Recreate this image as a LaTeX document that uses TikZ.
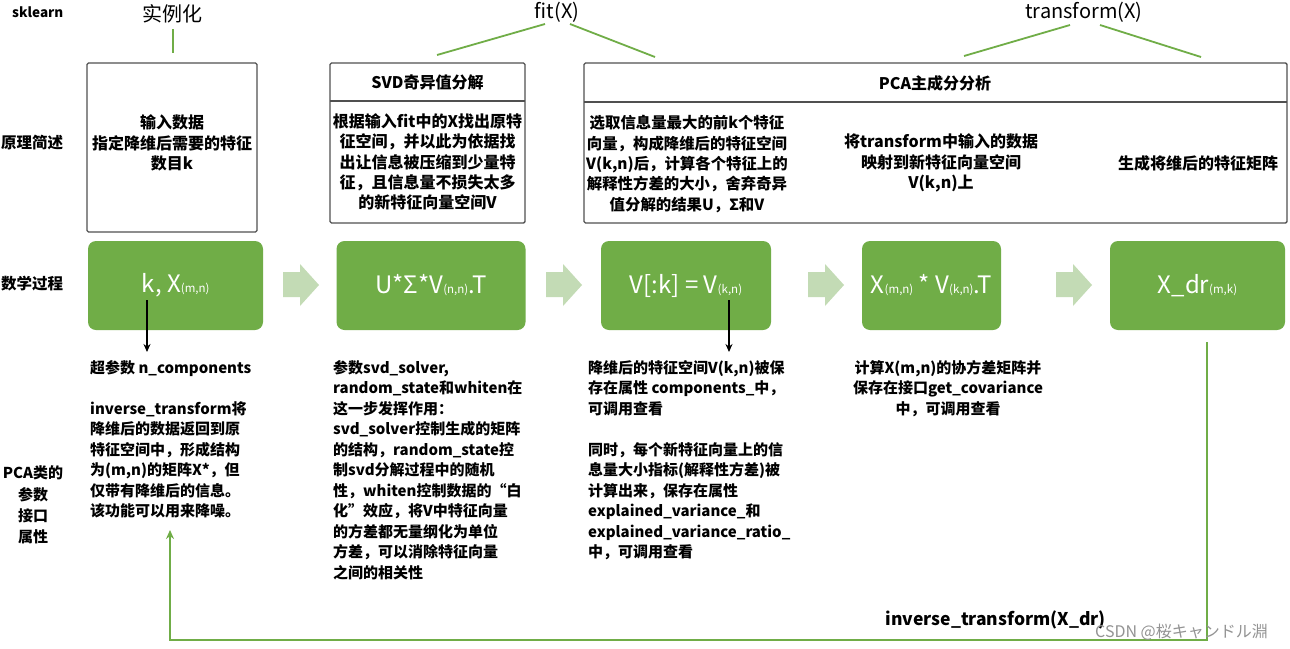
\documentclass[tikz,border=0pt]{standalone}
\usepackage{fontspec}
\setmainfont{Noto Sans CJK SC}
\newfontfamily\jpfont{Noto Sans CJK JP}
\usetikzlibrary{arrows.meta}
\definecolor{gbox}{HTML}{70AD47}
\definecolor{garrow}{HTML}{C3DBB5}
\definecolor{bordergray}{HTML}{505050}
\newcommand{\sbx}[1]{{\fontsize{11.5}{12}\selectfont #1}}
\tikzset{
  lbl/.style={font=\fontsize{15.5}{18}\selectfont\bfseries, inner sep=0pt},
  toplbl/.style={font=\fontsize{20}{22}\selectfont, inner sep=0pt},
  framebox/.style={draw=bordergray, line width=1.4pt, rounded corners=1.5pt},
  boxtext/.style={font=\fontsize{16}{20.4}\selectfont\bfseries, align=center, inner sep=0pt},
  coltext/.style={font=\fontsize{15}{20.5}\selectfont\bfseries, align=left, inner sep=0pt, anchor=north west},
  mathbox/.style={fill=gbox, rounded corners=8pt, inner sep=0pt, text=white, font=\fontsize{24}{26}\selectfont},
  blockarrow/.style={fill=garrow, draw=none},
  gline/.style={draw=gbox, line width=1.8pt},
  blackarrow/.style={draw=black, line width=1.4pt, -{Stealth[length=8pt,width=7pt]}}
}
\begin{document}
\begin{tikzpicture}[x=1pt,y=-1pt]
\useasboundingbox (0,0) rectangle (1290,648);
\fill[white] (0,0) rectangle (1290,648);

% left labels
\node[lbl, font=\fontsize{13.5}{16}\selectfont\bfseries, anchor=west] (sk) at (12,12) {sklearn};
\node[lbl, anchor=west] (yl) at (1,143) {原理简述};
\node[lbl, anchor=west] (sx) at (1,284) {数学过程};
\node[lbl, align=center, font=\fontsize{15}{21.2}\selectfont\bfseries] (pca) at (33,505) {PCA类的\\参数\\接口\\属性};

% top labels
\node[toplbl] (sl) at (172,14) {实例化};
\node[toplbl] (fit) at (557,12) {fit(X)};
\node[toplbl] (tr) at (1084,12) {transform(X)};

% frame boxes
\draw[framebox] (87,63) rectangle (257,232);
\node[boxtext] (b1) at (172,143) {输入数据\\指定降维后需要的特征\\数目k};

\draw[framebox] (330,63) rectangle (525,223);
\draw[bordergray, line width=1.4pt] (330,101) -- (525,101);
\node[boxtext] (svdh) at (427.5,82) {SVD奇异值分解};
\node[boxtext] (svdb) at (427.5,162) {根据输入fit中的X找出原特\\征空间，并以此为依据找\\出让信息被压缩到少量特\\征，且信息量不损失太多\\的新特征向量空间V};

\draw[framebox] (584,63) rectangle (1287,223);
\draw[bordergray, line width=1.4pt] (584,102) -- (1287,102);
\node[boxtext] (pcah) at (935,83) {PCA主成分分析};
\node[boxtext, font=\fontsize{15.4}{20.3}\selectfont\bfseries] (pc1) at (687,164) {选取信息量最大的前k个特征\\向量，构成降维后的特征空间\\V(k,n)后，计算各个特征上的\\解释性方差的大小，舍弃奇异\\值分解的结果U，Σ和V};
\node[boxtext] (pc2) at (941,163) {将transform中输入的数据\\映射到新特征向量空间\\V(k,n)上};
\node[boxtext] (pc3) at (1198,163) {生成将维后的特征矩阵};

% green lines from top labels
\coordinate (slb) at (173,53);
\draw[gline] (173,29) -- (slb);
\coordinate (fl) at (437,55);
\coordinate (fr) at (655,57);
\draw[gline] (545,24) -- (fl);
\draw[gline] (570,24) -- (fr);
\coordinate (tl) at (964,56);
\coordinate (trr) at (1201,57);
\draw[gline] (1070,25) -- (tl);
\draw[gline] (1100,25) -- (trr);

% math boxes
\node[mathbox, minimum width=175pt, minimum height=89pt] (m1) at (175.5,285.5) {k, X\sbx{(m,n)}};
\node[mathbox, minimum width=189pt, minimum height=89pt] (m2) at (431,285.5) {U*Σ*V\sbx{(n,n)}.T};
\node[mathbox, minimum width=170pt, minimum height=89pt] (m3) at (686,285.5) {V[:k] = V\sbx{(k,n)}};
\node[mathbox, minimum width=139pt, minimum height=89pt] (m4) at (931.5,285.5) {X\sbx{(m,n)} * V\sbx{(k,n)}.T};
\node[mathbox, minimum width=175pt, minimum height=89pt] (m5) at (1197.5,285.5) {X\_dr\sbx{(m,k)}};

% block arrows
\foreach \xs in {283,546,808,1056}{
  \fill[blockarrow] (\xs,272) -- (\xs+17,272) -- (\xs+17,264) -- (\xs+36,285) -- (\xs+17,306) -- (\xs+17,297) -- (\xs,297) -- cycle;
}

% black arrows
\coordinate (a1) at (147,352);
\coordinate (a3) at (729,352);
\draw[blackarrow] (147,300) -- (a1);
\draw[blackarrow] (729,300) -- (a3);

% column texts
\node[coltext] (c1) at (90,360) {超参数 n\_components\\ \\inverse\_transform将\\降维后的数据返回到原\\特征空间中，形成结构\\为(m,n)的矩阵X*，但\\仅带有降维后的信息。\\该功能可以用来降噪。};
\node[coltext] (c2) at (333,360) {参数svd\_solver,\\random\_state和whiten在\\这一步发挥作用：\\svd\_solver控制生成的矩阵\\的结构，random\_state控\\制svd分解过程中的随机\\性，whiten控制数据的“白\\化”效应，将V中特征向量\\的方差都无量纲化为单位\\方差，可以消除特征向量\\之间的相关性};
\node[coltext] (c3) at (588,360) {降维后的特征空间V(k,n)被保\\存在属性 components\_中，\\可调用查看\\ \\同时，每个新特征向量上的信\\息量大小指标(解释性方差)被\\计算出来，保存在属性\\explained\_variance\_和\\explained\_variance\_ratio\_\\中，可调用查看};
\node[coltext, anchor=north, align=center] (c4) at (948,360) {计算X(m,n)的协方差矩阵并\\保存在接口get\_covariance\\中，可调用查看};

% inverse transform loop
\coordinate (lp1) at (1207,342);
\coordinate (lp2) at (1207,640);
\coordinate (lp3) at (170,640);
\coordinate (lp4) at (170,530);
\draw[gline, -{Stealth[length=9pt,width=8pt]}] (lp1) -- (lp2) -- (lp3) -- (lp4);
\node[inner sep=0pt, font=\fontsize{17.5}{19}\selectfont\bfseries, anchor=east] (inv) at (1106,620) {inverse\_transform(X\_dr)};

% watermark
\node[inner sep=0pt, anchor=west, text=gray!85, font=\jpfont\fontsize{16}{17}\selectfont] (wm) at (1095,632) {CSDN @桜キャンドル淵};
\end{tikzpicture}
\end{document}
